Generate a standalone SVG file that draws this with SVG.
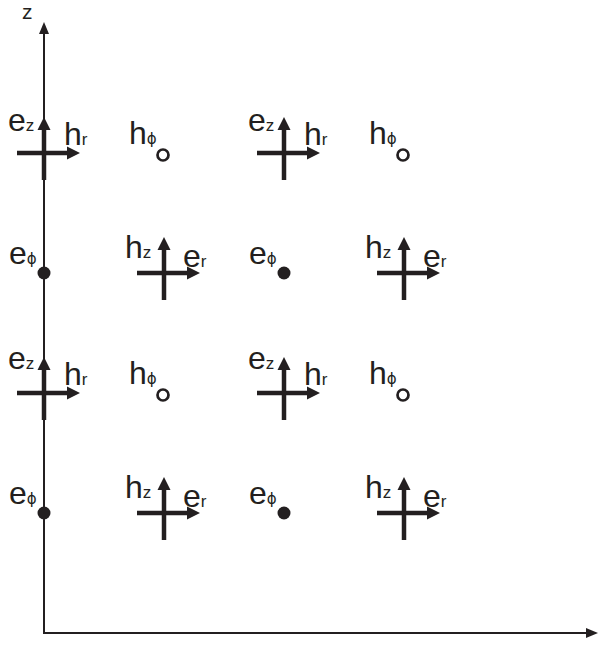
<svg xmlns="http://www.w3.org/2000/svg" xmlns:xlink="http://www.w3.org/1999/xlink" width="604" height="662" viewBox="0 0 604 662">
<style>
.axis{stroke:#231f20;stroke-width:2;fill:none}
.thick{stroke:#231f20;stroke-width:4.5;fill:none}
.head{fill:#231f20}
.lbl{font-family:"Liberation Sans","DejaVu Sans",sans-serif;font-size:32px;fill:#231f20}
.sub{font-size:17px}
.phi{font-size:15px;font-family:"DejaVu Sans","Liberation Sans",sans-serif}
.open{fill:none;stroke:#231f20;stroke-width:2.7}
.dot{fill:#231f20}
</style>
<defs>
<g id="cross">
<line class="thick" x1="-27" y1="0" x2="25" y2="0"/>
<polygon class="head" points="36,0 23,-6.5 23,6.5"/>
<line class="thick" x1="0" y1="27" x2="0" y2="-25"/>
<polygon class="head" points="0,-36 -6.5,-23 6.5,-23"/>
</g>
</defs>
<rect width="604" height="662" fill="#fff"/>
<g id="connectors">
<line class="axis" x1="44" y1="633" x2="44" y2="32"/>
<polygon class="head" points="44,22 39,34 49,34"/>
<line class="axis" x1="43" y1="633" x2="588" y2="633"/>
<polygon class="head" points="598,633 586,628 586,638"/>
<text class="lbl" x="22" y="19" style="font-size:21px">z</text>
</g>
<!-- Row A -->
<g id="cA0"><use xlink:href="#cross" x="44" y="153"/><text class="lbl" x="8" y="131">e<tspan class="sub">z</tspan></text><text class="lbl" x="64" y="145">h<tspan class="sub">r</tspan></text></g>
<g id="hA1"><text class="lbl" x="129" y="144">h<tspan class="phi">ϕ</tspan></text><circle class="open" cx="163" cy="155" r="5.5"/></g>
<g id="cA2"><use xlink:href="#cross" x="284" y="153"/><text class="lbl" x="248" y="131">e<tspan class="sub">z</tspan></text><text class="lbl" x="304" y="145">h<tspan class="sub">r</tspan></text></g>
<g id="hA3"><text class="lbl" x="369" y="144">h<tspan class="phi">ϕ</tspan></text><circle class="open" cx="403" cy="155" r="5.5"/></g>
<!-- Row B -->
<g id="eB0"><text class="lbl" x="9" y="264">e<tspan class="phi">ϕ</tspan></text><circle class="dot" cx="44" cy="273" r="6.5"/></g>
<g id="cB1"><use xlink:href="#cross" x="164" y="273"/><text class="lbl" x="125" y="258">h<tspan class="sub">z</tspan></text><text class="lbl" x="183" y="267">e<tspan class="sub">r</tspan></text></g>
<g id="eB2"><text class="lbl" x="249" y="264">e<tspan class="phi">ϕ</tspan></text><circle class="dot" cx="284" cy="273" r="6.5"/></g>
<g id="cB3"><use xlink:href="#cross" x="404" y="273"/><text class="lbl" x="365" y="258">h<tspan class="sub">z</tspan></text><text class="lbl" x="423" y="267">e<tspan class="sub">r</tspan></text></g>
<!-- Row C -->
<g id="cC0"><use xlink:href="#cross" x="44" y="393"/><text class="lbl" x="8" y="369">e<tspan class="sub">z</tspan></text><text class="lbl" x="64" y="385">h<tspan class="sub">r</tspan></text></g>
<g id="hC1"><text class="lbl" x="129" y="384">h<tspan class="phi">ϕ</tspan></text><circle class="open" cx="163" cy="395" r="5.5"/></g>
<g id="cC2"><use xlink:href="#cross" x="284" y="393"/><text class="lbl" x="248" y="369">e<tspan class="sub">z</tspan></text><text class="lbl" x="304" y="385">h<tspan class="sub">r</tspan></text></g>
<g id="hC3"><text class="lbl" x="369" y="384">h<tspan class="phi">ϕ</tspan></text><circle class="open" cx="403" cy="395" r="5.5"/></g>
<!-- Row D -->
<g id="eD0"><text class="lbl" x="9" y="504">e<tspan class="phi">ϕ</tspan></text><circle class="dot" cx="44" cy="513" r="6.5"/></g>
<g id="cD1"><use xlink:href="#cross" x="164" y="513"/><text class="lbl" x="125" y="498">h<tspan class="sub">z</tspan></text><text class="lbl" x="183" y="507">e<tspan class="sub">r</tspan></text></g>
<g id="eD2"><text class="lbl" x="249" y="504">e<tspan class="phi">ϕ</tspan></text><circle class="dot" cx="284" cy="513" r="6.5"/></g>
<g id="cD3"><use xlink:href="#cross" x="404" y="513"/><text class="lbl" x="365" y="498">h<tspan class="sub">z</tspan></text><text class="lbl" x="423" y="507">e<tspan class="sub">r</tspan></text></g>
</svg>
